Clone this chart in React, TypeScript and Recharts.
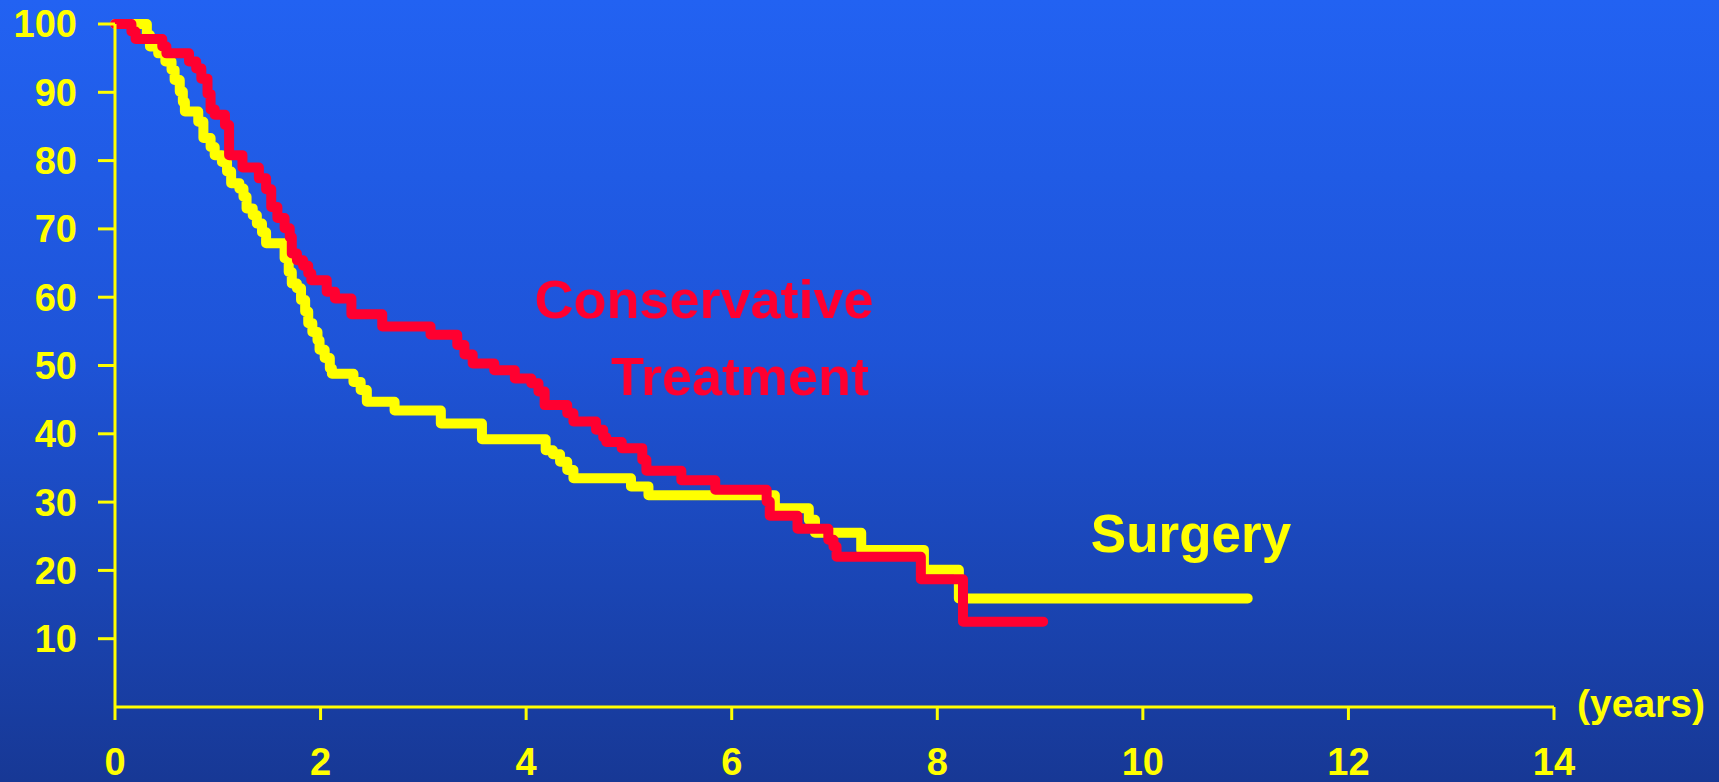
import { LineChart, Line, XAxis, YAxis } from 'recharts'

// Kaplan-Meier style survival (years, % surviving)
const conservativeYears = [
  0, 0.16, 0.2, 0.46, 0.5, 0.72, 0.79, 0.84, 0.9, 0.93, 0.97, 1.07, 1.11, 1.24, 1.4, 1.47, 1.52, 1.58,
  1.65, 1.7, 1.72, 1.77, 1.83, 1.88, 1.91, 2.06, 2.14, 2.3, 2.6, 3.07, 3.33, 3.4, 3.48, 3.69, 3.89, 4.05,
  4.12, 4.18, 4.4, 4.46, 4.68, 4.75, 4.78, 4.93, 5.13, 5.17, 5.51, 5.84, 6.34, 6.37, 6.64, 6.94, 6.99,
  7.02, 7.84, 8.25, 9.03,
]
const conservativeSurvival = [
  100, 98.9, 97.8, 96.7, 95.7, 94.5, 93.5, 92.0, 89.8, 87.5, 86.7, 85.2, 80.8, 79.0, 77.4, 75.8, 73.2, 71.6,
  70.1, 68.8, 66.4, 65.4, 64.6, 63.5, 62.5, 60.8, 59.8, 57.5, 55.7, 54.5, 53.0, 51.6, 50.3, 49.3, 48.1, 47.4,
  46.2, 44.2, 43.0, 41.8, 40.6, 39.5, 38.8, 37.9, 36.2, 34.6, 33.2, 31.8, 30.1, 28.0, 26.1, 24.5, 23.5,
  22.0, 18.7, 12.5, 12.5,
]

const surgeryYears = [
  0, 0.31, 0.34, 0.42, 0.49, 0.55, 0.58, 0.63, 0.66, 0.68, 0.81, 0.86, 0.93, 0.97, 1.04, 1.09, 1.13, 1.21,
  1.25, 1.28, 1.34, 1.38, 1.43, 1.47, 1.65, 1.69, 1.72, 1.77, 1.81, 1.85, 1.88, 1.92, 1.97, 1.99, 2.04,
  2.09, 2.11, 2.32, 2.39, 2.45, 2.72, 3.17, 3.57, 4.19, 4.26, 4.33, 4.4, 4.46, 5.02, 5.19, 6.42, 6.75,
  6.81, 7.26, 7.87, 8.21, 11.02,
]
const surgerySurvival = [
  100, 98.4, 96.7, 95.7, 94.5, 93.3, 91.8, 90.1, 88.6, 87.2, 85.7, 83.3, 82.0, 80.8, 79.8, 78.4, 76.7, 75.9,
  74.7, 73.0, 72.0, 70.8, 69.5, 67.9, 65.7, 63.7, 62.0, 61.3, 59.6, 57.9, 56.2, 54.9, 53.7, 52.3, 51.1,
  49.6, 48.8, 47.6, 46.4, 44.7, 43.4, 41.5, 39.2, 37.6, 37.0, 35.9, 34.7, 33.5, 32.3, 31.0, 29.1, 27.4,
  25.5, 23.0, 20.1, 15.9, 15.9,
]

const xTicks = [0, 2, 4, 6, 8, 10, 12, 14]
const yTicks = [10, 20, 30, 40, 50, 60, 70, 80, 90, 100]

const conservativeData = conservativeYears.map((t, i) => ({ t, s: conservativeSurvival[i] }))
const surgeryData = surgeryYears.map((t, i) => ({ t, s: surgerySurvival[i] }))

const YELLOW = '#FFFF00'
const RED = '#FF0030'
const FONT = '"Liberation Sans", Arial, Helvetica, sans-serif'

const tickStyle = { fill: YELLOW, fontSize: 38, fontWeight: 'bold', fontFamily: FONT }

const App = () => {
  return (
    <div
      style={{
        position: 'absolute',
        top: 0,
        left: 0,
        width: 1719,
        height: 782,
        background: 'linear-gradient(to bottom, #2262F2 0%, #1E54D8 45%, #1A45B4 75%, #173895 100%)',
        fontFamily: FONT,
      }}
    >
      <LineChart width={1719} height={782} margin={{ top: 24, right: 165, bottom: 15, left: 55 }}>
        <XAxis
          type="number"
          dataKey="t"
          domain={[0, 14]}
          ticks={xTicks}
          height={60}
          tickSize={13}
          tickMargin={28}
          tick={tickStyle}
          axisLine={{ stroke: YELLOW, strokeWidth: 3 }}
          tickLine={{ stroke: YELLOW, strokeWidth: 3 }}
        />
        <YAxis
          type="number"
          domain={[0, 100]}
          ticks={yTicks}
          width={60}
          tickSize={17}
          tickMargin={21}
          tick={tickStyle}
          axisLine={{ stroke: YELLOW, strokeWidth: 3 }}
          tickLine={{ stroke: YELLOW, strokeWidth: 3 }}
        />
        <Line
          data={surgeryData}
          dataKey="s"
          type="stepAfter"
          stroke={YELLOW}
          strokeWidth={10}
          strokeLinecap="round"
          strokeLinejoin="round"
          dot={false}
          activeDot={false}
          isAnimationActive={false}
        />
        <Line
          data={conservativeData}
          dataKey="s"
          type="stepAfter"
          stroke={RED}
          strokeWidth={10}
          strokeLinecap="round"
          strokeLinejoin="round"
          dot={false}
          activeDot={false}
          isAnimationActive={false}
        />
      </LineChart>

      {/* series names and axis unit, placed like on the slide */}
      <svg
        width={1719}
        height={782}
        style={{ position: 'absolute', top: 0, left: 0, pointerEvents: 'none' }}
      >
        <g fontFamily={FONT} fontWeight="bold">
          <text x={704} y={318} textAnchor="middle" fontSize={54} fill={RED}>Conservative</text>
          <text x={740} y={395} textAnchor="middle" fontSize={54} fill={RED}>Treatment</text>
          <text x={1191} y={552} textAnchor="middle" fontSize={53} fill={YELLOW}>Surgery</text>
          <text x={1641} y={717} textAnchor="middle" fontSize={39} fill={YELLOW}>(years)</text>
        </g>
      </svg>
    </div>
  )
}

export default App
